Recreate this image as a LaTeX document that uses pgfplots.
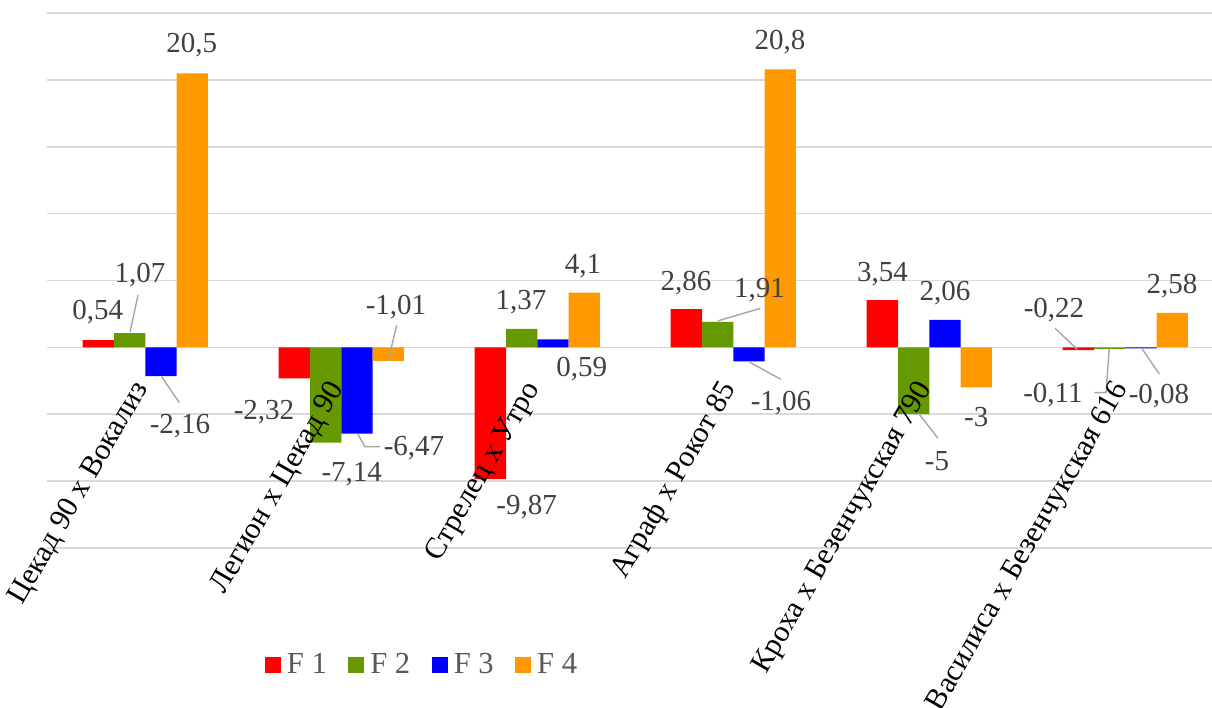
\documentclass[border=0pt]{standalone}
\usepackage{fontspec}
\setmainfont{Liberation Serif}
\usepackage{pgfplots}
\pgfplotsset{compat=1.18}

\definecolor{cF1}{HTML}{FF0000}
\definecolor{cF2}{HTML}{669900}
\definecolor{cF3}{HTML}{0000FF}
\definecolor{cF4}{HTML}{FF9900}
\definecolor{gridgray}{HTML}{D9D9D9}
\definecolor{labelgray}{HTML}{404040}
\definecolor{leadgray}{HTML}{A6A6A6}
\definecolor{legendgray}{HTML}{595959}

% shared geometry of the plot area
\pgfplotsset{
  plotarea/.style={
    scale only axis,
    width=588bp, height=267.2bp,
    xmin=-0.5, xmax=5.5,
    ymin=-15, ymax=25,
    axis line style={draw=none},
    major tick length=0pt,
    clip=false,
  },
}

% value label helper (axis coordinates)
\newcommand{\dl}[3]{\node[lbl] at (axis cs:#1,#2) {#3};}

\begin{document}
\begin{tikzpicture}[
  lbl/.style={font=\fontsize{14.5bp}{16bp}\selectfont, text=labelgray, inner sep=0pt, anchor=center},
  lead/.style={draw=leadgray, line width=0.7bp},
]
\begin{axis}[
  name=ax,
  plotarea,
  ybar=0pt,
  bar width=15.65bp,
  ytick={-15,-10,...,25},
  yticklabels={},
  ymajorgrids,
  grid style={draw=gridgray, line width=0.8bp},
  xtick=\empty,
  legend columns=4,
  legend style={
    at={(0.3178,-0.2195)}, anchor=center,
    draw=none, fill=none,
    font=\fontsize{15.3bp}{17bp}\selectfont, text=legendgray,
    nodes={inner sep=0pt},
    /tikz/every odd column/.style={column sep=3bp},
    /tikz/every even column/.style={column sep=10.75bp},
  },
  sq/.style={legend image code/.code={\fill[##1] (0bp,-4bp) rectangle (8bp,4bp);}},
]
\addplot+[sq, draw=none, fill=cF1] coordinates {(0,0.54) (1,-2.32) (2,-9.87) (3,2.86) (4,3.54) (5,-0.22)};
\addplot+[sq, draw=none, fill=cF2] coordinates {(0,1.07) (1,-7.14) (2,1.37) (3,1.91) (4,-5) (5,-0.11)};
\addplot+[sq, draw=none, fill=cF3] coordinates {(0,-2.16) (1,-6.47) (2,0.59) (3,-1.06) (4,2.06) (5,-0.08)};
\addplot+[sq, draw=none, fill=cF4] coordinates {(0,20.5) (1,-1.01) (2,4.1) (3,20.8) (4,-3) (5,2.58)};
\addlegendentry{F 1}
\addlegendentry{F 2}
\addlegendentry{F 3}
\addlegendentry{F 4}

% leader lines
\draw[lead] (axis cs:-0.037,3.915) -- (axis cs:-0.078,1.145);
\draw[lead] (axis cs:0.0837,-2.20) -- (axis cs:0.1735,-4.147);
\draw[lead] (axis cs:1.0837,-6.482) -- (axis cs:1.1209,-7.440) -- (axis cs:1.1974,-7.440);
\draw[lead] (axis cs:1.2827,1.669) -- (axis cs:1.2398,-1.003);
\draw[lead] (axis cs:2.9194,1.969) -- (axis cs:3.1388,2.919);
\draw[lead] (axis cs:3.0791,-1.078) -- (axis cs:3.2423,-2.395);
\draw[lead] (axis cs:3.9449,-4.940) -- (axis cs:4.0444,-6.811);
\draw[lead] (axis cs:4.6413,1.422) -- (axis cs:4.7551,-0.150);
\draw[lead] (axis cs:4.9184,-0.075) -- (axis cs:4.9015,-3.398) -- (axis cs:4.8418,-3.398);
\draw[lead] (axis cs:5.0837,-0.075) -- (axis cs:5.1735,-1.999);

% value labels
\dl{-0.2429}{2.605}{0,54}
\dl{-0.027}{5.41}{1,07}
\dl{0.177}{-5.89}{-2,16}
\dl{0.2367}{22.63}{20,5}
\dl{0.6056}{-4.843}{-2,32}
\dl{1.0531}{-9.484}{-7,14}
\dl{1.3709}{-7.537}{-6,47}
\dl{1.2791}{3.016}{-1,01}
\dl{1.9459}{-11.93}{-9,87}
\dl{1.9168}{3.391}{1,37}
\dl{2.2265}{-1.624}{0,59}
\dl{2.2332}{6.085}{4,1}
\dl{2.7587}{4.813}{2,86}
\dl{3.1337}{4.289}{1,91}
\dl{3.2434}{-4.169}{-1,06}
\dl{3.2383}{22.87}{20,8}
\dl{3.7607}{5.487}{3,54}
\dl{4.0393}{-8.51}{-5}
\dl{4.0796}{4.064}{2,06}
\dl{4.2398}{-5.195}{-3}
\dl{4.6362}{2.792}{-0,22}
\dl{4.6311}{-3.570}{-0,11}
\dl{5.1719}{-3.645}{-0,08}
\dl{5.2383}{4.588}{2,58}
\end{axis}

% category names, set over the bars
\begin{axis}[
  plotarea,
  ytick=\empty,
  xtick={0,1,2,3,4,5},
  xticklabels={Цекад 90 х Вокализ, Легион х Цекад 90, Стрелец х Утро, Аграф х Рокот 85, Кроха х Безенчукская 790, Василиса х Безенчукская 616},
  xticklabel style={font=\fontsize{15bp}{16bp}\selectfont, text=black, inner sep=0pt,
    anchor=east, xshift=-1.5bp, yshift=81.5bp, rotate=60},
]
\end{axis}
\pgfresetboundingbox
\path[use as bounding box] (ax.south west) ++(-23.65bp,-80.15bp) rectangle ++(606bp,354bp);
\end{tikzpicture}
\end{document}
